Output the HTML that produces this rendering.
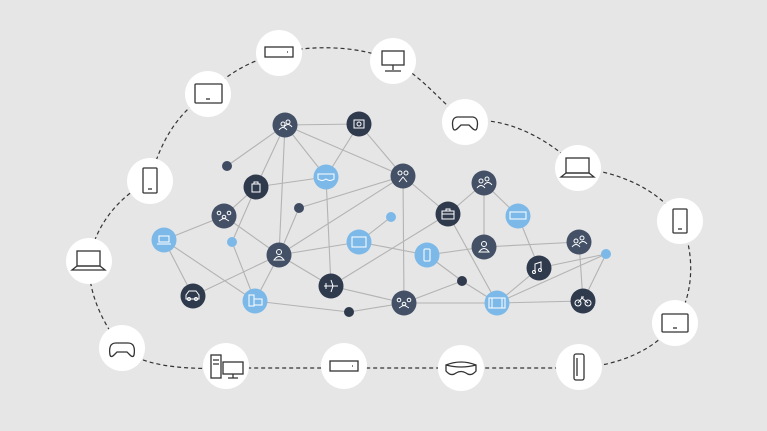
<!DOCTYPE html>
<html><head><meta charset="utf-8"><style>html,body{margin:0;padding:0;background:#e6e6e6;}svg{display:block}</style></head>
<body>
<svg width="767" height="431" viewBox="0 0 767 431" xmlns="http://www.w3.org/2000/svg">
<rect width="767" height="431" fill="#e6e6e6"/>
<!-- dashed cloud -->
<path d="M89,261 C95,225 120,195 150,181 C160,140 180,110 208,94 C230,70 255,60 279,53 C310,45 360,45 393,61 C420,75 440,100 465,122 C500,115 545,135 578,168 C620,172 660,190 680,221 C695,250 695,295 675,323 C655,350 620,365 579,368 L226,368 C180,370 140,365 122,348 C100,320 88,290 89,261 Z" fill="none" stroke="#333" stroke-width="1.2" stroke-dasharray="4,3"/>
<!-- edges -->
<g stroke="#b3b3b3" stroke-width="1.1" fill="none">
<line x1="285" y1="125" x2="359" y2="124"/><line x1="285" y1="125" x2="227" y2="166"/><line x1="285" y1="125" x2="326" y2="177"/><line x1="285" y1="125" x2="403" y2="176"/><line x1="285" y1="125" x2="256" y2="187"/><line x1="285" y1="125" x2="279" y2="255"/>
<line x1="359" y1="124" x2="326" y2="177"/><line x1="359" y1="124" x2="403" y2="176"/>
<line x1="256" y1="187" x2="326" y2="177"/><line x1="256" y1="187" x2="224" y2="216"/><line x1="256" y1="187" x2="232" y2="242"/><line x1="232" y1="242" x2="255" y2="301"/>
<line x1="224" y1="216" x2="164" y2="240"/><line x1="224" y1="216" x2="279" y2="255"/>
<line x1="164" y1="240" x2="193" y2="296"/><line x1="164" y1="240" x2="255" y2="301"/>
<line x1="279" y1="255" x2="193" y2="296"/><line x1="279" y1="255" x2="255" y2="301"/><line x1="279" y1="255" x2="299" y2="208"/><line x1="279" y1="255" x2="403" y2="176"/><line x1="279" y1="255" x2="359" y2="242"/><line x1="279" y1="255" x2="331" y2="286"/>
<line x1="299" y1="208" x2="403" y2="176"/><line x1="326" y1="177" x2="331" y2="286"/>
<line x1="359" y1="242" x2="391" y2="217"/><line x1="359" y1="242" x2="427" y2="255"/>
<line x1="331" y1="286" x2="448" y2="214"/><line x1="331" y1="286" x2="404" y2="303"/>
<line x1="403" y1="176" x2="404" y2="303"/><line x1="403" y1="176" x2="448" y2="214"/>
<line x1="255" y1="301" x2="349" y2="312"/><line x1="349" y1="312" x2="404" y2="303"/>
<line x1="427" y1="255" x2="462" y2="281"/><line x1="462" y1="281" x2="497" y2="303"/><line x1="404" y1="303" x2="462" y2="281"/><line x1="404" y1="303" x2="497" y2="303"/>
<line x1="427" y1="255" x2="484" y2="247"/>
<line x1="448" y1="214" x2="484" y2="183"/><line x1="448" y1="214" x2="497" y2="303"/>
<line x1="484" y1="183" x2="484" y2="247"/><line x1="484" y1="183" x2="518" y2="216"/>
<line x1="518" y1="216" x2="539" y2="268"/><line x1="484" y1="247" x2="579" y2="242"/>
<line x1="579" y1="242" x2="583" y2="301"/><line x1="539" y1="268" x2="606" y2="254"/>
<line x1="497" y1="303" x2="539" y2="268"/><line x1="497" y1="303" x2="606" y2="254"/><line x1="497" y1="303" x2="583" y2="301"/><line x1="606" y1="254" x2="583" y2="301"/>
</g>
<!-- small dots -->
<g>
<circle cx="227" cy="166" r="5" fill="#3f4b61"/><circle cx="299" cy="208" r="5" fill="#3f4b61"/><circle cx="232" cy="242" r="5" fill="#7cb9e8"/><circle cx="391" cy="217" r="5" fill="#7cb9e8"/><circle cx="349" cy="312" r="5" fill="#2f3a4d"/><circle cx="462" cy="281" r="5" fill="#2f3a4d"/><circle cx="606" cy="254" r="5" fill="#7cb9e8"/>
</g>
<!-- nodes -->
<g stroke="#fff" stroke-width="1" fill="none">
<circle cx="285" cy="125" r="12.5" fill="#435066" stroke="none"/><circle cx="283" cy="124" r="2"/><circle cx="288" cy="122" r="2"/><path d="M279,130 q4,-5 8,0 M284,127 q4,-5 8,0"/>
<circle cx="359" cy="124" r="12.5" fill="#2f3a4d" stroke="none"/><rect x="354" y="120" width="10" height="8"/><circle cx="359" cy="124" r="2"/>
<circle cx="326" cy="177" r="12.5" fill="#7cb9e8" stroke="none"/><path d="M318,174 h16 v5 q-4,3 -8,0 q-4,3 -8,0 z"/>
<circle cx="256" cy="187" r="12.5" fill="#2f3a4d" stroke="none"/><rect x="252" y="184" width="8" height="8"/><path d="M254,184 v-2 h4 v2"/>
<circle cx="403" cy="176" r="12.5" fill="#435066" stroke="none"/><circle cx="400" cy="173" r="2"/><circle cx="406" cy="173" r="2"/><path d="M399,182 l4,-5 l4,5"/>
<circle cx="224" cy="216" r="12.5" fill="#435066" stroke="none"/><circle cx="219" cy="213" r="1.8"/><circle cx="229" cy="213" r="1.8"/><circle cx="224" cy="217" r="1.8"/><path d="M219,221 l5,-3 l5,3"/>
<circle cx="164" cy="240" r="12.5" fill="#7cb9e8" stroke="none"/><rect x="159" y="236" width="10" height="6"/><path d="M157,244 h14"/>
<circle cx="279" cy="255" r="12.5" fill="#435066" stroke="none"/><circle cx="279" cy="252" r="2.5"/><path d="M274,260 q5,-7 10,0 z"/>
<circle cx="359" cy="242" r="12.5" fill="#7cb9e8" stroke="none"/><rect x="352" y="237" width="14" height="10"/>
<circle cx="448" cy="214" r="12.5" fill="#2f3a4d" stroke="none"/><rect x="442" y="211" width="12" height="8"/><path d="M446,211 v-2 h4 v2 M442,214 h12"/>
<circle cx="427" cy="255" r="12.5" fill="#7cb9e8" stroke="none"/><rect x="424" y="249" width="6" height="12" rx="1"/>
<circle cx="484" cy="183" r="12.5" fill="#435066" stroke="none"/><circle cx="481" cy="181" r="2"/><circle cx="487" cy="179" r="2"/><path d="M477,188 q4,-5 8,0 M484,185 q4,-5 8,0"/>
<circle cx="518" cy="216" r="12.5" fill="#7cb9e8" stroke="none"/><rect x="510" y="212" width="16" height="7"/>
<circle cx="484" cy="247" r="12.5" fill="#435066" stroke="none"/><circle cx="484" cy="244" r="2.5"/><path d="M479,252 q5,-7 10,0 z"/>
<circle cx="579" cy="242" r="12.5" fill="#435066" stroke="none"/><circle cx="576" cy="241" r="2"/><circle cx="582" cy="238" r="2"/><path d="M572,247 q4,-5 8,0 M579,244 q4,-5 8,0"/>
<circle cx="539" cy="268" r="12.5" fill="#2f3a4d" stroke="none"/><path d="M535,272 v-8 l6,-2 v8"/><circle cx="534" cy="272" r="1.5"/><circle cx="540" cy="270" r="1.5"/>
<circle cx="331" cy="286" r="12.5" fill="#2f3a4d" stroke="none"/><path d="M324,286 h14 M331,280 l2,6 l-2,6 M326,283 v6"/>
<circle cx="404" cy="303" r="12.5" fill="#435066" stroke="none"/><circle cx="399" cy="300" r="1.8"/><circle cx="409" cy="300" r="1.8"/><circle cx="404" cy="304" r="1.8"/><path d="M399,308 l5,-3 l5,3"/>
<circle cx="497" cy="303" r="12.5" fill="#7cb9e8" stroke="none"/><rect x="489" y="298" width="16" height="10"/><path d="M492,298 v10 M502,298 v10"/>
<circle cx="583" cy="301" r="12.5" fill="#2f3a4d" stroke="none"/><circle cx="578" cy="303" r="3"/><circle cx="588" cy="303" r="3"/><path d="M578,303 l4,-5 l6,5 M581,297 h3"/>
<circle cx="193" cy="296" r="12.5" fill="#2f3a4d" stroke="none"/><path d="M186,299 v-4 l3,-4 h7 l3,4 v4 z"/><circle cx="189" cy="299" r="1.5"/><circle cx="196" cy="299" r="1.5"/>
<circle cx="255" cy="301" r="12.5" fill="#7cb9e8" stroke="none"/><rect x="249" y="295" width="5" height="11"/><rect x="254" y="299" width="8" height="6"/>
</g>
<!-- outer circles -->
<g fill="#fff">
<circle cx="279" cy="53" r="23"/><circle cx="393" cy="61" r="23"/><circle cx="465" cy="122" r="23"/><circle cx="578" cy="168" r="23"/><circle cx="680" cy="221" r="23"/><circle cx="675" cy="323" r="23"/><circle cx="579" cy="367" r="23"/><circle cx="461" cy="368" r="23"/><circle cx="344" cy="366" r="23"/><circle cx="226" cy="366" r="23"/><circle cx="122" cy="348" r="23"/><circle cx="89" cy="261" r="23"/><circle cx="150" cy="181" r="23"/><circle cx="208" cy="94" r="23"/>
</g>
<g fill="none" stroke="#333" stroke-width="1.3">
<rect x="265" y="47" width="28" height="10"/><path d="M287,52 h1"/>
<rect x="382" y="51" width="22" height="14"/><path d="M393,65 v5 M385,71 h16"/>
<path d="M453,128 q-2,-10 4,-11 h16 q6,1 4,11 q-1,4 -5,0 l-3,-3 h-8 l-3,3 q-4,4 -5,0 z"/>
<rect x="566" y="158" width="23" height="15"/><path d="M561,177 l5,-4 h23 l5,4 z"/>
<rect x="673" y="209" width="14" height="24" rx="1"/><path d="M678,229 h4"/>
<rect x="662" y="314" width="26" height="18" rx="1"/><path d="M673,328 h4"/>
<rect x="574" y="354" width="10" height="26" rx="2"/><path d="M577,358 v18"/>
<path d="M446,365 q15,-6 30,0 v6 q-5,6 -10,2 q-5,-3 -10,0 q-5,4 -10,-2 z M446,365 q15,4 30,0"/>
<rect x="330" y="361" width="28" height="10"/><path d="M352,366 h1"/>
<rect x="211" y="355" width="10" height="23"/><rect x="223" y="362" width="20" height="12"/><path d="M233,374 v4 M228,378 h10 M213,360 h6 M213,364 h6"/>
<path d="M110,355 q-2,-12 6,-12 h12 q8,0 6,12 q-1,3 -4,0 l-3,-3 h-10 l-3,3 q-3,3 -4,0 z"/>
<rect x="77" y="251" width="23" height="15"/><path d="M72,270 l5,-4 h23 l5,4 z"/>
<rect x="143" y="168" width="14" height="25" rx="1"/><path d="M148,189 h4"/>
<rect x="195" y="84" width="27" height="19" rx="1"/><path d="M206,99 h4"/>
</g>
</svg>
</body></html>
